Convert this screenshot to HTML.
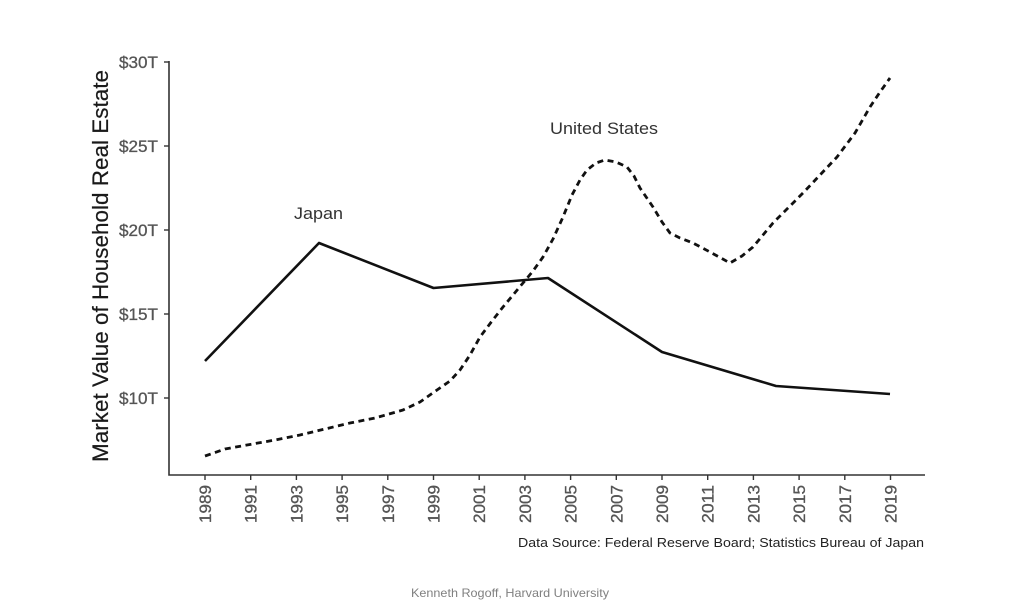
<!DOCTYPE html>
<html><head><meta charset="utf-8">
<style>
html,body{margin:0;padding:0;background:#fff;}
svg{display:block;}
text{font-family:"Liberation Sans",Arial,sans-serif;}
</style></head>
<body>
<svg width="1024" height="609" viewBox="0 0 1024 609" xmlns="http://www.w3.org/2000/svg">
<rect width="1024" height="609" fill="#fff"/>
<!-- axes -->
<path d="M169 61 V475 H925" fill="none" stroke="#333" stroke-width="1.6"/>
<!-- y ticks -->
<g stroke="#333" stroke-width="1.4">
<line x1="164" y1="62" x2="169" y2="62"/>
<line x1="164" y1="146" x2="169" y2="146"/>
<line x1="164" y1="230" x2="169" y2="230"/>
<line x1="164" y1="314" x2="169" y2="314"/>
<line x1="164" y1="398" x2="169" y2="398"/>
</g>
<g font-size="16.5" fill="#555" text-anchor="end" stroke="#555" stroke-width="0.3">
<text x="158" y="68" textLength="39" lengthAdjust="spacingAndGlyphs">$30T</text>
<text x="158" y="152" textLength="39" lengthAdjust="spacingAndGlyphs">$25T</text>
<text x="158" y="236" textLength="39" lengthAdjust="spacingAndGlyphs">$20T</text>
<text x="158" y="320" textLength="39" lengthAdjust="spacingAndGlyphs">$15T</text>
<text x="158" y="404" textLength="39" lengthAdjust="spacingAndGlyphs">$10T</text>
</g>
<!-- y title -->
<text transform="translate(108,266) rotate(-90)" text-anchor="middle" font-size="22" fill="#1a1a1a" stroke="#1a1a1a" stroke-width="0.2" textLength="392" lengthAdjust="spacingAndGlyphs">Market Value of Household Real Estate</text>
<!-- x ticks -->
<g stroke="#333" stroke-width="1.4">
<line x1="205" y1="475" x2="205" y2="480"/>
<line x1="250.7" y1="475" x2="250.7" y2="480"/>
<line x1="296.4" y1="475" x2="296.4" y2="480"/>
<line x1="342.1" y1="475" x2="342.1" y2="480"/>
<line x1="387.8" y1="475" x2="387.8" y2="480"/>
<line x1="433.5" y1="475" x2="433.5" y2="480"/>
<line x1="479.2" y1="475" x2="479.2" y2="480"/>
<line x1="524.9" y1="475" x2="524.9" y2="480"/>
<line x1="570.6" y1="475" x2="570.6" y2="480"/>
<line x1="616.3" y1="475" x2="616.3" y2="480"/>
<line x1="662" y1="475" x2="662" y2="480"/>
<line x1="707.7" y1="475" x2="707.7" y2="480"/>
<line x1="753.4" y1="475" x2="753.4" y2="480"/>
<line x1="799.1" y1="475" x2="799.1" y2="480"/>
<line x1="844.8" y1="475" x2="844.8" y2="480"/>
<line x1="890.5" y1="475" x2="890.5" y2="480"/>
</g>
<g font-size="16.5" fill="#555" text-anchor="end" stroke="#555" stroke-width="0.3">
<text transform="translate(211,485) rotate(-90)" textLength="38" lengthAdjust="spacingAndGlyphs">1989</text>
<text transform="translate(256.7,485) rotate(-90)" textLength="38" lengthAdjust="spacingAndGlyphs">1991</text>
<text transform="translate(302.4,485) rotate(-90)" textLength="38" lengthAdjust="spacingAndGlyphs">1993</text>
<text transform="translate(348.1,485) rotate(-90)" textLength="38" lengthAdjust="spacingAndGlyphs">1995</text>
<text transform="translate(393.8,485) rotate(-90)" textLength="38" lengthAdjust="spacingAndGlyphs">1997</text>
<text transform="translate(439.5,485) rotate(-90)" textLength="38" lengthAdjust="spacingAndGlyphs">1999</text>
<text transform="translate(485.2,485) rotate(-90)" textLength="38" lengthAdjust="spacingAndGlyphs">2001</text>
<text transform="translate(530.9,485) rotate(-90)" textLength="38" lengthAdjust="spacingAndGlyphs">2003</text>
<text transform="translate(576.6,485) rotate(-90)" textLength="38" lengthAdjust="spacingAndGlyphs">2005</text>
<text transform="translate(622.3,485) rotate(-90)" textLength="38" lengthAdjust="spacingAndGlyphs">2007</text>
<text transform="translate(668,485) rotate(-90)" textLength="38" lengthAdjust="spacingAndGlyphs">2009</text>
<text transform="translate(713.7,485) rotate(-90)" textLength="38" lengthAdjust="spacingAndGlyphs">2011</text>
<text transform="translate(759.4,485) rotate(-90)" textLength="38" lengthAdjust="spacingAndGlyphs">2013</text>
<text transform="translate(805.1,485) rotate(-90)" textLength="38" lengthAdjust="spacingAndGlyphs">2015</text>
<text transform="translate(850.8,485) rotate(-90)" textLength="38" lengthAdjust="spacingAndGlyphs">2017</text>
<text transform="translate(896.5,485) rotate(-90)" textLength="38" lengthAdjust="spacingAndGlyphs">2019</text>
</g>
<!-- Japan series -->
<polyline points="205,361 319,243 433.5,288 548,278 662,352 776,386 890,394" fill="none" stroke="#111" stroke-width="2.6" stroke-linejoin="round"/>
<!-- US series -->
<polyline points="205,456 225,449 247,445 275,440 300,435 325,429 350,423 375,418 403,410 420,402 437,390 450,381 460,370 470,355 480,337 492,321 503,307 513,295 523,283 533,271 543,257 553,239 563,217 572,195 580,180 587,170 596,163 605,160 616,162 627,167 634,176 640,188 653,207 662,222 670,233 680,238 693,243 710,252 730,263 742,256 753,247 773,223 803,193 820,175 837,157 855,133 870,107 880,92 890,78" fill="none" stroke="#111" stroke-width="2.8" stroke-dasharray="6 4.5" stroke-linejoin="round"/>
<!-- labels -->
<text x="294" y="219" font-size="17" fill="#333" textLength="49" lengthAdjust="spacingAndGlyphs">Japan</text>
<text x="550" y="134" font-size="17" fill="#333" textLength="108" lengthAdjust="spacingAndGlyphs">United States</text>
<text x="518" y="547" font-size="13" fill="#222" textLength="406" lengthAdjust="spacingAndGlyphs">Data Source: Federal Reserve Board; Statistics Bureau of Japan</text>
<text x="411" y="597" font-size="12" fill="#808080" textLength="198" lengthAdjust="spacingAndGlyphs">Kenneth Rogoff, Harvard University</text>
</svg>
</body></html>
